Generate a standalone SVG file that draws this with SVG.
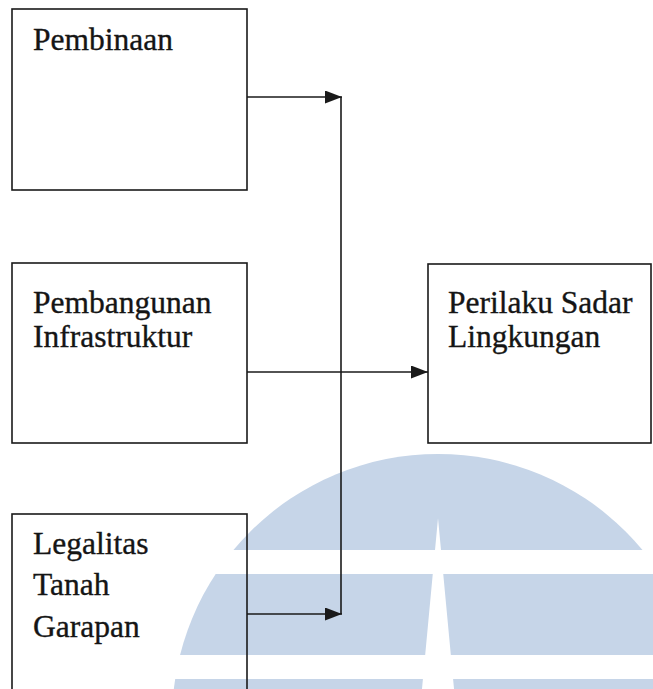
<svg xmlns="http://www.w3.org/2000/svg" width="653" height="689" viewBox="0 0 653 689">
  <style>
    .box { fill: none; stroke: #1a1a1a; stroke-width: 1.6; }
    .lbl { font-family: "Liberation Serif", "Times New Roman", serif; font-size: 31.5px; fill: #151515; stroke: #151515; stroke-width: 0.35; }
    .conn { fill: none; stroke: #1a1a1a; stroke-width: 1.6; }
    .wm { fill: #c6d5e8; }
    .wmcut { fill: #ffffff; }
  </style>
  <defs>
    <marker id="arrow" markerUnits="userSpaceOnUse" markerWidth="18" markerHeight="14" refX="17" refY="6.5" orient="auto">
      <path d="M0,0 L17,6.5 L0,13 z" fill="#1a1a1a"/>
    </marker>
  </defs>
  <rect width="653" height="689" fill="#ffffff"/>

  <g id="watermark">
    <circle class="wm" cx="438" cy="720" r="266"/>
    <rect class="wmcut" x="0" y="550" width="653" height="24"/>
    <rect class="wmcut" x="0" y="655" width="653" height="24"/>
    <polygon class="wmcut" points="438,518 454,689 422,689"/>
  </g>

  <g id="connectors">
    <line class="conn" x1="247" y1="97" x2="342" y2="97" marker-end="url(#arrow)"/>
    <line class="conn" x1="247" y1="614" x2="342" y2="614" marker-end="url(#arrow)"/>
    <line class="conn" x1="341" y1="97" x2="341" y2="614"/>
    <line class="conn" x1="247" y1="372" x2="428" y2="372" marker-end="url(#arrow)"/>
  </g>

  <g id="node-pembinaan">
    <rect class="box" x="12" y="9" width="235" height="181"/>
    <text class="lbl" x="33" y="50">Pembinaan</text>
  </g>

  <g id="node-infrastruktur">
    <rect class="box" x="12" y="263" width="235" height="180"/>
    <text class="lbl" x="33" y="313">Pembangunan</text>
    <text class="lbl" x="33" y="347">Infrastruktur</text>
  </g>

  <g id="node-legalitas">
    <rect class="box" x="12" y="514" width="235" height="190"/>
    <text class="lbl" x="33" y="554">Legalitas</text>
    <text class="lbl" x="33" y="595">Tanah</text>
    <text class="lbl" x="33" y="637">Garapan</text>
  </g>

  <g id="node-perilaku">
    <rect class="box" x="428" y="264" width="223" height="179"/>
    <text class="lbl" x="448" y="313">Perilaku Sadar</text>
    <text class="lbl" x="448" y="347">Lingkungan</text>
  </g>
</svg>
